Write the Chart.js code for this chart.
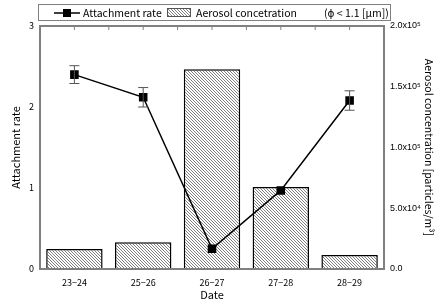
<!DOCTYPE html>
<html>
<head>
<meta charset="utf-8">
<script src="https://cdn.jsdelivr.net/npm/chart.js@4"></script>
<style>
  html, body { margin: 0; padding: 0; background: #fff; }
  #box { width: 435px; height: 305px; }
</style>
</head>
<body>
<div id="box"><canvas id="grafico"></canvas></div>
<script>
const dates = ['23\u221224', '25\u221226', '26\u221227', '27\u221228', '28\u221229'];
const attachRate = [2.40, 2.12, 0.25, 0.97, 2.08];
const attachErr = [0.11, 0.12, 0, 0, 0.12];
const aerosol = [16500, 22000, 164500, 67500, 11500];
const rightTicks = { 0: '0.0', 50000: '5.0x10\u2074', 100000: '1.0x10\u2075', 150000: '1.5x10\u2075', 200000: '2.0x10\u2075' };

const FONT = '"Noto Sans CJK JP", "DejaVu Sans", sans-serif';
const NARROW = '"Liberation Sans Narrow", "Liberation Sans", sans-serif';
Chart.defaults.font.family = FONT;
Chart.defaults.color = '#000';

// hachura diagonal
function hatch() {
    const c = document.createElement('canvas');
    c.width = 3; c.height = 3;
    const g = c.getContext('2d');
    g.fillStyle = '#fff';
    g.fillRect(0, 0, 3, 3);
    g.fillStyle = '#808080';
    for (let i = 0; i < 3; i++) g.fillRect(i, i, 1, 1);
    return g.createPattern(c, 'repeat');
}
const pat = hatch();

const molduraPlugin = {
    id: 'moldura',
    afterDatasetsDraw(chart) {
        const ctx = chart.ctx;
        const a = chart.chartArea;
        const y = chart.scales.y;
        const x = chart.scales.x;
        ctx.save();
        // barras de erro
        ctx.strokeStyle = '#555';
        ctx.lineWidth = 1;
        attachRate.forEach((v, i) => {
            if (!attachErr[i]) return;
            const px = x.getPixelForValue(i);
            const top = y.getPixelForValue(v + attachErr[i]);
            const bot = y.getPixelForValue(v - attachErr[i]);
            ctx.beginPath();
            ctx.moveTo(px, top); ctx.lineTo(px, bot);
            ctx.moveTo(px - 5, top); ctx.lineTo(px + 5, top);
            ctx.moveTo(px - 5, bot); ctx.lineTo(px + 5, bot);
            ctx.stroke();
        });
        // moldura do gráfico
        ctx.strokeStyle = '#808080';
        ctx.lineWidth = 2;
        ctx.strokeRect(a.left, a.top, a.right - a.left, a.bottom - a.top);
        // marcas do topo
        ctx.lineWidth = 1;
        ctx.beginPath();
        for (let i = 0; i < dates.length; i++) {
            const px = x.getPixelForValue(i);
            ctx.moveTo(px, a.top); ctx.lineTo(px, a.top + 4);
            const pb = x.getPixelForValue(i + 0.5);
            if (i < dates.length - 1) { ctx.moveTo(pb, a.top); ctx.lineTo(pb, a.top + 4); }
        }
        ctx.stroke();
        // legenda
        const lx = 38, ly = 4, lw = 352, lh = 16;
        ctx.fillStyle = '#fff';
        ctx.fillRect(lx, ly, lw, lh);
        ctx.strokeStyle = '#808080';
        ctx.lineWidth = 1;
        ctx.strokeRect(lx + 0.5, ly + 0.5, lw, lh);
        const cy = ly + lh / 2 + 1;
        ctx.strokeStyle = '#000';
        ctx.lineWidth = 1.5;
        ctx.beginPath(); ctx.moveTo(54, cy); ctx.lineTo(80, cy); ctx.stroke();
        ctx.fillStyle = '#000';
        ctx.fillRect(63, cy - 4, 8, 8);
        ctx.font = '10.5px ' + FONT;
        ctx.textBaseline = 'middle';
        ctx.fillText('Attachment rate', 83, cy);
        ctx.fillStyle = pat;
        ctx.fillRect(167, cy - 4, 23, 8);
        ctx.strokeStyle = '#555';
        ctx.lineWidth = 1;
        ctx.strokeRect(167.5, cy - 4.5, 23, 8);
        ctx.fillStyle = '#000';
        ctx.fillText('Aerosol concetration', 196, cy);
        ctx.fillText('(\u03d5 < 1.1 [\u03bcm])', 324, cy);
        ctx.restore();
    }
};

new Chart(document.getElementById('grafico').getContext('2d'), {
    data: {
        labels: dates,
        datasets: [{
            type: 'line',
            label: 'Attachment rate',
            data: attachRate,
            yAxisID: 'y',
            borderColor: '#000',
            borderWidth: 1.5,
            pointStyle: 'rect',
            pointRadius: 5,
            pointBackgroundColor: '#000',
            pointBorderColor: '#000',
            tension: 0,
            order: 0
        }, {
            type: 'bar',
            label: 'Aerosol concetration',
            data: aerosol,
            yAxisID: 'y1',
            backgroundColor: pat,
            borderColor: '#000',
            borderWidth: 1.5,
            categoryPercentage: 1,
            barPercentage: 0.82,
            order: 1
        }]
    },
    options: {
        responsive: true,
        maintainAspectRatio: false,
        animation: false,
        layout: { padding: { top: 26, left: 0, right: 0, bottom: 0 } },
        plugins: { legend: { display: false }, tooltip: { enabled: false } },
        scales: {
            x: {
                grid: { display: false, drawTicks: true, tickLength: 4, tickColor: '#808080' },
                border: { color: '#808080', width: 2 },
                ticks: { font: { size: 9 }, padding: 4 },
                title: { display: true, text: 'Date', font: { size: 11 }, padding: { top: 5 } },
                afterFit: s => { s.height = 36; }
            },
            y: {
                position: 'left',
                min: 0, max: 3,
                grid: { display: false, tickLength: 4, tickColor: '#808080' },
                border: { color: '#808080', width: 2 },
                ticks: { stepSize: 0.5, font: { size: 9 }, padding: 2, callback: v => Number.isInteger(v) ? String(v) : '' },
                title: { display: true, text: 'Attachment rate', font: { size: 11 }, padding: { top: 9, bottom: 0 } },
                afterFit: s => { s.width = 40; }
            },
            y1: {
                position: 'right',
                min: 0, max: 200000,
                grid: { display: false, tickLength: 4, tickColor: '#808080' },
                border: { color: '#808080', width: 2 },
                ticks: {
                    stepSize: 25000,
                    font: { size: 9, family: NARROW },
                    padding: 2,
                    callback: v => rightTicks[v] || ''
                },
                title: { display: true, text: 'Aerosol concentration [particles/m\u00b3]', font: { size: 10.5 }, padding: 0 },
                afterFit: s => { s.width = 51; }
            }
        }
    },
    plugins: [molduraPlugin]
});
</script>
</body>
</html>
